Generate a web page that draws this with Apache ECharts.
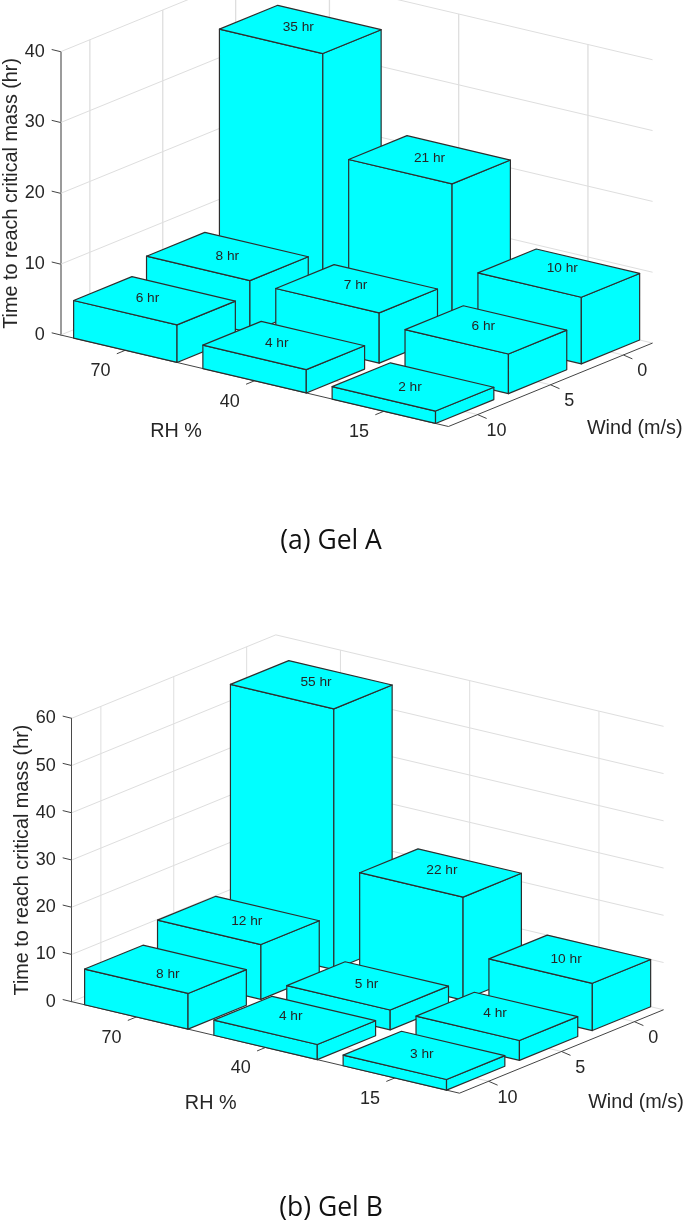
<!DOCTYPE html>
<html>
<head>
<meta charset="utf-8">
<style>html,body{margin:0;padding:0;background:#fff}#c{width:685px;height:1223px}</style>
<script src="https://cdn.jsdelivr.net/npm/echarts@6/dist/echarts.min.js"></script>
</head>
<body>
<div id="c"></div>
<script>
// ---- data ----
const rhLabels = ['70', '40', '15'];
const windLabels = ['0', '5', '10'];
const gelAHeights = [[35.2, 21.1, 9.4], [7.35, 7.1, 5.6], [5.3, 3.3, 1.75]];
const gelATexts = [['35 hr', '21 hr', '10 hr'], ['8 hr', '7 hr', '6 hr'], ['6 hr', '4 hr', '2 hr']];
const gelBHeights = [[55.2, 21.8, 10], [11.6, 4.2, 4.2], [7.56, 3.2, 2.26]];
const gelBTexts = [['55 hr', '22 hr', '10 hr'], ['12 hr', '5 hr', '4 hr'], ['8 hr', '4 hr', '3 hr']];
const zTicksA = [0, 10, 20, 30, 40];
const zTicksB = [0, 10, 20, 30, 40, 50, 60];
const captionA = '(a) Gel A';
const captionB = '(b) Gel B';
const zTitle = 'Time to reach critical mass (hr)';
const rhTitle = 'RH %';
const windTitle = 'Wind (m/s)';

// ---- layout ----
const rhSpan = 3, windSpan = 2.8, barSize = 0.8, barInset = 0.1;
const rhStepPx = 129.25, rhDropPx = 30.5, windStepPx = 72.9, windRisePx = 29.8;
const panels = [
  { left: 60.7, top: 51.7, h: 283.3, zMax: 40, zTicks: zTicksA, heights: gelAHeights, texts: gelATexts,
    nudges: [[[-2, -2], [0, -1.5], [3.5, -4.7]], [[0, 0], [-1, -3.4], [-2.5, -3.7]], [[-7, -3], [-7, -2.4], [-3, 0]]],
    rhName: [115.3, 96.5], windName: [574, 94], axisColor: '#7a7a7a', axisWidth: 1.5, gridWidth: 1.3, nameGap: 49,
    caption: captionA, capY: 541 },
  { left: 71.7, top: 718.3, h: 283.4, zMax: 60, zTicks: zTicksB, heights: gelBHeights, texts: gelBTexts,
    nudges: [[[4.7, -2], [1.4, -3], [-3.7, 0]], [[8.4, 1], [-1, -2], [-1.8, -3.4]], [[2.4, 4.7], [-4, -4.6], [-2.2, -1.3]]],
    rhName: [139, 102.3], windName: [564.3, 101], axisColor: '#4a4a4a', axisWidth: 1, gridWidth: 1, nameGap: 49,
    caption: captionB, capY: 1208 }
];
const textColor = '#262626', edgeColor = '#2e2e2e', gridColor = '#dedede', barColor = '#00FFFF';
const sans = '"Liberation Sans", Arial, sans-serif';

// (u along RH, v along wind from the front edge, z height) -> plane values on the panel's axes
function projector(p, api) {
  const pxPerZ = p.h / p.zMax;
  return (u, v, z) => api.coord([
    u + v * windStepPx / rhStepPx,
    z - (u * rhDropPx - v * windRisePx) / pxPerZ
  ]);
}
function seg(a, b, stroke, lineWidth) {
  return { type: 'line', silent: true,
    shape: { x1: a[0], y1: a[1], x2: b[0], y2: b[1] },
    style: { stroke, lineWidth, fill: null } };
}
function label(x, y, text, size) {
  return { type: 'text', silent: true,
    style: { x, y, text, fill: textColor, font: size + 'px ' + sans, align: 'center', verticalAlign: 'middle' } };
}

function frameRender(p) {
  return function (params, api) {
    const P = projector(p, api), kids = [];
    const zTop = p.zMax;
    // walls: horizontal grid at each z tick
    p.zTicks.forEach(z => {
      kids.push(seg(P(0, 0, z), P(0, windSpan, z), gridColor, 1));
      kids.push(seg(P(0, windSpan, z), P(rhSpan, windSpan, z), gridColor, 1));
    });
    // wind tick positions: on the left wall and floor
    windLabels.forEach((_, j) => {
      const v = (windLabels.length - 1 - j) + barSize / 2;
      kids.push(seg(P(0, v, 0), P(0, v, zTop), gridColor, p.gridWidth));
      kids.push(seg(P(0, v, 0), P(rhSpan, v, 0), gridColor, 1));
    });
    // RH tick positions: on the back wall and floor
    rhLabels.forEach((_, i) => {
      const u = i + 0.5;
      kids.push(seg(P(u, windSpan, 0), P(u, windSpan, zTop), gridColor, p.gridWidth));
      kids.push(seg(P(u, 0, 0), P(u, windSpan, 0), gridColor, 1));
    });
    // floor axes
    kids.push(seg(P(0, 0, 0), P(rhSpan, 0, 0), '#444444', 1));
    kids.push(seg(P(rhSpan, 0, 0), P(rhSpan, windSpan, 0), '#444444', 1));
    // slanted ticks on all three axes
    p.zTicks.forEach(z => {
      const a = P(0, 0, z);
      kids.push(seg(a, [a[0] - 9, a[1] - 2.2], '#444444', 1));
    });
    rhLabels.forEach((t, i) => {
      const a = P(i + 0.5, 0, 0);
      kids.push(seg(a, [a[0] - 8.5, a[1] + 3.5], '#444444', 1));
      kids.push(label(a[0] - 24.8, a[1] + 20.8, t, 18));
    });
    windLabels.forEach((t, j) => {
      const a = P(rhSpan, (windLabels.length - 1 - j) + barSize / 2, 0);
      kids.push(seg(a, [a[0] + 9, a[1] + 3.9], '#444444', 1));
      kids.push(label(a[0] + 18.8, a[1] + 16.4, t, 18));
    });
    const o = P(0, 0, 0);
    kids.push(label(o[0] + p.rhName[0], o[1] + p.rhName[1], rhTitle, 19.8));
    kids.push(label(o[0] + p.windName[0], o[1] + p.windName[1], windTitle, 19.8));
    return { type: 'group', children: kids };
  };
}

function barRender(p) {
  return function (params, api) {
    const P = projector(p, api);
    const i = api.value(0), j = api.value(1), h = api.value(2);
    const u0 = i + barInset, u1 = u0 + barSize;
    const v0 = windLabels.length - 1 - j, v1 = v0 + barSize;
    const face = pts => ({ type: 'polygon', silent: true, shape: { points: pts },
      style: { fill: barColor, stroke: edgeColor, lineWidth: 1.2, lineJoin: 'round' } });
    const tl = P(u0, v0, h), tf = P(u1, v0, h), tr = P(u1, v1, h), tb = P(u0, v1, h);
    const bl = P(u0, v0, 0), bf = P(u1, v0, 0), br = P(u1, v1, 0);
    const c = P(u0 + barSize / 2, v0 + barSize / 2, h);
    const n = p.nudges[j][i];
    return { type: 'group', children: [
      face([tl, tf, bf, bl]),
      face([tf, tr, br, bf]),
      face([tl, tf, tr, tb]),
      label(c[0] + n[0], c[1] + n[1], p.texts[j][i], 13.7)
    ] };
  };
}

const grid = [], xAxis = [], yAxis = [], series = [], graphic = [];
panels.forEach((p, k) => {
  grid.push({ left: p.left, top: p.top, width: rhStepPx * rhSpan, height: p.h, containLabel: false, show: false, outerBoundsMode: 'none' });
  xAxis.push({ type: 'value', gridIndex: k, min: 0, max: rhSpan, show: false });
  yAxis.push({ type: 'value', gridIndex: k, min: 0, max: p.zMax, interval: 10,
    name: zTitle, nameLocation: 'middle', nameRotate: 90, nameGap: p.nameGap, nameMoveOverlap: false,
    nameTextStyle: { color: textColor, fontSize: 19.8, fontFamily: sans, verticalAlign: 'middle' },
    axisLine: { show: true, onZero: false, lineStyle: { color: p.axisColor, width: p.axisWidth } },
    axisTick: { show: false },
    splitLine: { show: false },
    axisLabel: { color: textColor, fontSize: 18, fontFamily: sans, margin: 16 } });
  series.push({ type: 'custom', name: 'frame' + k, xAxisIndex: k, yAxisIndex: k, z: 1, silent: true, clip: false,
    data: [[0, 0]], renderItem: frameRender(p) });
  const rows = [];
  rhLabels.forEach((_, i) => windLabels.forEach((_, j) => rows.push([i, j, p.heights[j][i]])));
  series.push({ type: 'custom', name: 'bars' + k, xAxisIndex: k, yAxisIndex: k, z: 2, silent: true, clip: false,
    encode: { x: 0, y: 2 }, data: rows, renderItem: barRender(p) });
  graphic.push({ type: 'text', silent: true, x: 331, y: p.capY,
    style: { text: p.caption, fill: '#111111', font: '26.5px "Open Sans", sans-serif', align: 'center', verticalAlign: 'middle' } });
});

const chart = echarts.init(document.getElementById('c'), null, { renderer: 'canvas', width: 685, height: 1223 });
chart.setOption({ animation: false, backgroundColor: '#ffffff', grid, xAxis, yAxis, series, graphic });
</script>
</body>
</html>
